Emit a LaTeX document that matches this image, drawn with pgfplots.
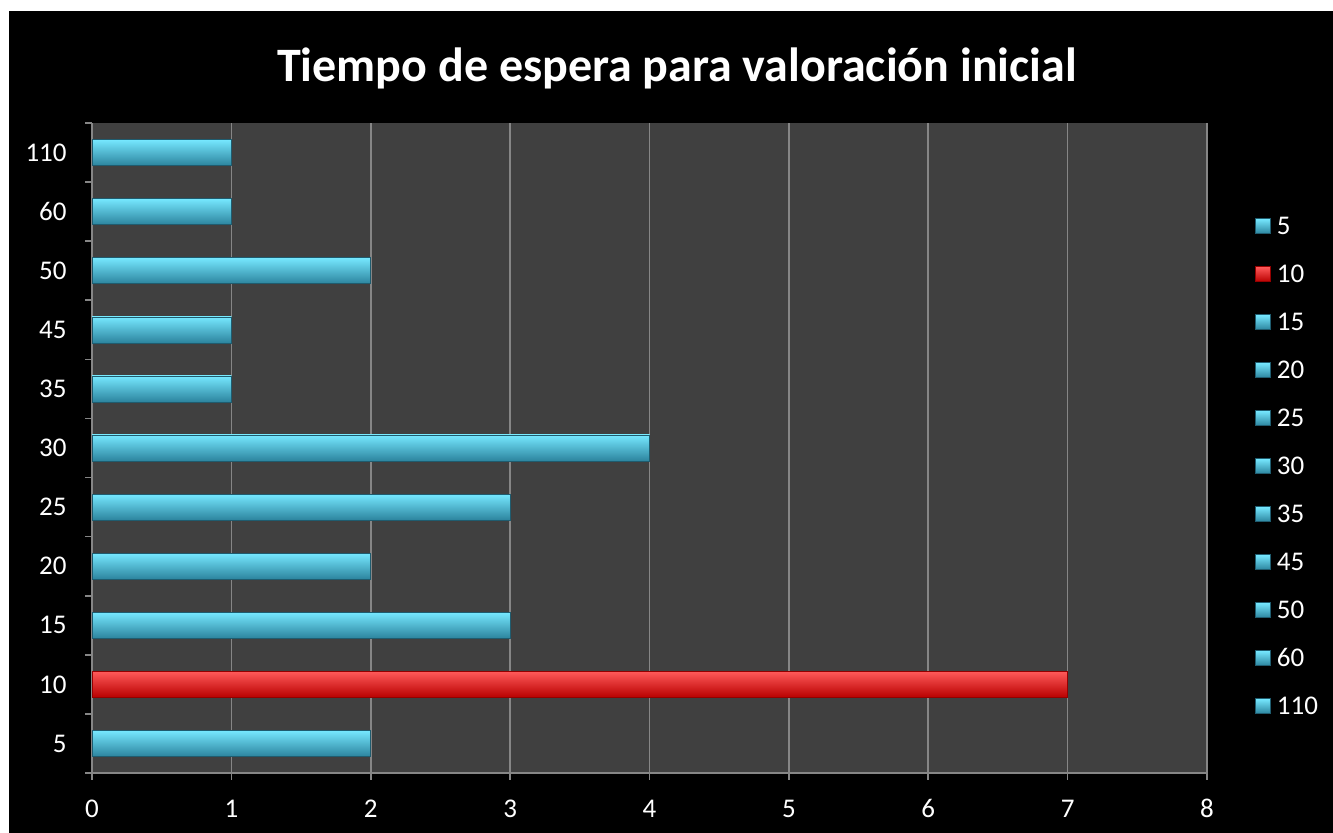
\documentclass[border=0pt]{standalone}
\usepackage{pgfplots}
\pgfplotsset{compat=1.18}
\usepackage{fontspec}
\setmainfont{Carlito}
\definecolor{plotbg}{RGB}{64,64,64}
\definecolor{gridc}{RGB}{134,134,134}
\definecolor{cyanT}{RGB}{118,232,255}
\definecolor{cyanM}{RGB}{70,190,222}
\definecolor{cyanB}{RGB}{44,132,158}
\definecolor{redT}{RGB}{255,90,90}
\definecolor{redM}{RGB}{250,10,10}
\definecolor{redB}{RGB}{185,0,0}
\pgfplotsset{
  cyanbar/.style={top color=cyanT, middle color=cyanM, bottom color=cyanB, draw=cyanB!70!black, line width=0.3pt},
  redbar/.style={top color=redT, middle color=redM, bottom color=redB, draw=redB!80!black, line width=0.3pt},
}
\begin{document}
\begin{tikzpicture}
\fill[white] (0,0) rectangle (666.5pt,416.5pt);
\fill[black] (4.5pt,0) rectangle (666.5pt,411pt);
\node[white, font=\fontsize{24}{28}\selectfont\bfseries] at (338.5pt,382.5pt) {Tiempo de espera para valoración inicial};
\begin{axis}[
  at={(46pt,30pt)}, anchor=south west,
  scale only axis, width=557.5pt, height=325pt,
  xbar, bar width=13pt, bar shift=0pt,
  xmin=0, xmax=8, ymin=-0.5, ymax=10.5,
  axis background/.style={fill=plotbg},
  axis x line*=bottom, axis y line*=left,
  axis line style={gridc, line width=0.8pt, -},
  xtick={0,1,2,3,4,5,6,7,8},
  ytick={-0.5,0.5,1.5,2.5,3.5,4.5,5.5,6.5,7.5,8.5,9.5,10.5},
  y tick label as interval,
  yticklabels={5,10,15,20,25,30,35,45,50,60,110},
  tick align=outside, major tick length=3.5pt,
  tick style={gridc, line width=0.8pt},
  xmajorgrids, grid style={gridc, line width=0.8pt},
  /pgf/number format/assume math mode=true,
  tick label style={white, font=\fontsize{13.5}{16}\selectfont},
  xticklabel style={anchor=base, inner sep=0pt, yshift=-19pt},
  yticklabel style={anchor=east, inner sep=0pt, xshift=-9pt},
  legend style={at={(1.043,0.472)}, anchor=west, draw=none, fill=none,
    text=white, font=\fontsize{13.5}{16}\selectfont, inner sep=0pt,
    nodes={inner sep=1pt, text height=8pt, text depth=0pt},
    row sep=14pt, column sep=2pt},
  legend cell align=left,
  legend image code/.code={\fill[#1] (0pt,-3.75pt) rectangle (7.5pt,3.75pt);},
]
\addplot[cyanbar] coordinates {(2,0)};
\addplot[redbar] coordinates {(7,1)};
\addplot[cyanbar] coordinates {(3,2)};
\addplot[cyanbar] coordinates {(2,3)};
\addplot[cyanbar] coordinates {(3,4)};
\addplot[cyanbar] coordinates {(4,5)};
\addplot[cyanbar] coordinates {(1,6)};
\addplot[cyanbar] coordinates {(1,7)};
\addplot[cyanbar] coordinates {(2,8)};
\addplot[cyanbar] coordinates {(1,9)};
\addplot[cyanbar] coordinates {(1,10)};
\legend{5,10,15,20,25,30,35,45,50,60,110}
\end{axis}
\end{tikzpicture}
\end{document}
